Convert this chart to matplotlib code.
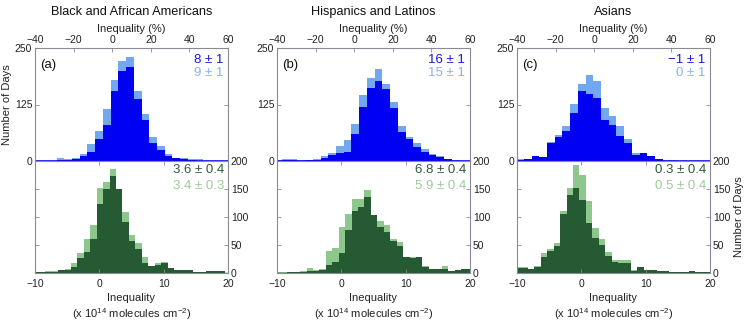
import numpy as np
import matplotlib
matplotlib.use('Agg')
import matplotlib.pyplot as plt

plt.rcParams['font.family'] = ['Liberation Sans', 'DejaVu Sans']
plt.rcParams['mathtext.default'] = 'regular'

titles = ['Black and African Americans', 'Hispanics and Latinos', 'Asians']
letters = ['(a)', '(b)', '(c)']

# top row: inequality in percent, bins of 4 %
top_width = 4.0
a_top_start = -28.8
a_top_dark = [2, 2, 4, 10, 21, 49, 80, 155, 200, 209, 137, 91, 39, 24, 10, 6, 4, 2, 1, 0]
a_top_light = [7, 4, 6, 15, 37, 67, 115, 179, 222, 230, 155, 104, 52, 33, 15, 7, 6, 5, 4, 1]
b_top_start = -41.4
b_top_dark = [1, 2, 2, 1, 2, 3, 7, 13, 17, 21, 60, 120, 161, 178, 159, 117, 65, 49, 30, 19, 13, 8, 4, 1, 0]
b_top_light = [2, 4, 4, 3, 3, 4, 10, 17, 33, 47, 81, 146, 183, 203, 171, 130, 78, 54, 39, 26, 15, 10, 5, 2, 1]
c_top_start = -40.45
c_top_dark = [2, 5, 11, 9, 39, 53, 67, 107, 155, 148, 139, 91, 80, 55, 39, 13, 17, 11, 4, 1, 1, 0]
c_top_light = [4, 5, 11, 9, 41, 58, 78, 126, 170, 191, 178, 117, 100, 78, 49, 18, 17, 11, 4, 2, 2, 1]

# bottom row: inequality in 1e14 molecules cm-2, bins of 1
bot_width = 1.0
a_bot_start = -10.4
a_bot_dark = [1, 1, 1, 2, 5, 6, 11, 26, 38, 60, 123, 150, 173, 150, 91, 57, 42, 17, 12, 14,
              17, 9, 6, 5, 5, 2, 2, 3, 3, 3]
a_bot_light = [1, 2, 3, 3, 5, 8, 17, 35, 60, 85, 152, 162, 185, 148, 109, 67, 54, 29, 12, 18,
               20, 8, 5, 4, 3, 1, 1, 2, 2, 2]
b_bot_start = -10.4
b_bot_dark = [0, 0, 1, 1, 1, 4, 4, 6, 15, 19, 35, 76, 111, 118, 135, 103, 82, 73, 58, 49,
              28, 27, 28, 10, 7, 7, 8, 4, 6, 7, 8]
b_bot_light = [1, 1, 2, 2, 3, 9, 5, 7, 40, 45, 82, 105, 132, 132, 148, 103, 92, 85, 61, 55,
               29, 29, 27, 13, 7, 7, 12, 4, 6, 7, 8]
c_bot_start = -10.3
c_bot_dark = [9, 9, 8, 11, 28, 40, 49, 105, 140, 152, 130, 90, 62, 50, 31, 20, 18, 18, 4, 10,
              5, 5, 3, 4, 2, 2, 1, 3, 1, 1, 1]
c_bot_light = [10, 10, 8, 13, 35, 43, 53, 110, 152, 193, 175, 128, 80, 60, 37, 24, 24, 24, 5, 10,
               5, 5, 3, 4, 2, 2, 1, 3, 1, 1, 1]

top_stat_dark = ['8 ± 1', '16 ± 1', '−1 ± 1']
top_stat_light = ['9 ± 1', '15 ± 1', '0 ± 1']
bot_stat_dark = ['3.6 ± 0.4', '6.8 ± 0.4', '0.3 ± 0.4']
bot_stat_light = ['3.4 ± 0.3', '5.9 ± 0.4', '0.5 ± 0.4']

top_data = [(a_top_start, a_top_dark, a_top_light),
            (b_top_start, b_top_dark, b_top_light),
            (c_top_start, c_top_dark, c_top_light)]
bot_data = [(a_bot_start, a_bot_dark, a_bot_light),
            (b_bot_start, b_bot_dark, b_bot_light),
            (c_bot_start, c_bot_dark, c_bot_light)]

BLUE = '#0000f2'
LBLUE = '#72a8f2'
DGREEN = '#255a32'
LGREEN = '#8dc78b'
TXT_BLUE = '#1818d8'
TXT_LBLUE = '#86b4ee'
TXT_DGREEN = '#2f5d3a'
TXT_LGREEN = '#9acc96'
SPINE = '#8a8a94'

W, H = 748, 324
fig = plt.figure(figsize=(W / 100, H / 100), dpi=100)
lefts = [35, 277, 517]
pw = 193


def style(ax):
    for s in ax.spines.values():
        s.set_color(SPINE)
        s.set_linewidth(0.8)
    ax.tick_params(which='both', direction='in', length=3, width=0.6, color=SPINE,
                   labelsize=7.5, pad=2, labelcolor='#222222')


for i in range(3):
    xl = lefts[i]
    axt = fig.add_axes([xl / W, 1 - 161 / H, pw / W, 113 / H])
    axb = fig.add_axes([xl / W, 1 - 273 / H, pw / W, 112 / H])

    start, dark, light = top_data[i]
    edges = start + top_width * np.arange(len(dark))
    axt.bar(edges, light, width=top_width, align='edge', color=LBLUE, linewidth=0)
    axt.bar(edges, dark, width=top_width, align='edge', color=BLUE, linewidth=0)
    axt.axhline(0, color=BLUE, lw=1.2)
    axt.set_xlim(-40, 60)
    axt.set_ylim(0, 250)
    axt.set_xticks([-40, -20, 0, 20, 40, 60])
    axt.set_yticks([0, 125, 250])
    style(axt)
    axt.xaxis.tick_top()
    axt.xaxis.set_label_position('top')
    axt.tick_params(axis='x', top=True, bottom=False)
    axt.tick_params(axis='y', left=True, right=True)
    axt.set_xlabel('Inequality (%)', fontsize=8, labelpad=2, color='#222222')
    axt.text(0.025, 0.85, letters[i], transform=axt.transAxes, fontsize=9.5,
             ha='left', va='center', color='#111111')
    axt.text(0.975, 0.895, top_stat_dark[i], transform=axt.transAxes, fontsize=9.5,
             ha='right', va='center', color=TXT_BLUE)
    axt.text(0.975, 0.775, top_stat_light[i], transform=axt.transAxes, fontsize=9.5,
             ha='right', va='center', color=TXT_LBLUE)

    start, dark, light = bot_data[i]
    edges = start + bot_width * np.arange(len(dark))
    axb.bar(edges, light, width=bot_width, align='edge', color=LGREEN, linewidth=0)
    axb.bar(edges, dark, width=bot_width, align='edge', color=DGREEN, linewidth=0)
    axb.axhline(0, color=DGREEN, lw=1.0)
    axb.set_xlim(-10, 20)
    axb.set_ylim(0, 200)
    axb.set_xticks([-10, 0, 10, 20])
    axb.set_yticks([0, 50, 100, 150, 200])
    style(axb)
    axb.tick_params(axis='x', top=True, bottom=True, pad=4)
    axb.tick_params(axis='y', left=True, right=True, labelleft=False, labelright=True)
    axb.set_xlabel('Inequality\n(x 10$^{14}$ molecules cm$^{-2}$)', fontsize=8,
                   linespacing=1.3, labelpad=3, color='#222222')
    axb.text(0.98, 0.92, bot_stat_dark[i], transform=axb.transAxes, fontsize=9.5,
             ha='right', va='center', color=TXT_DGREEN)
    axb.text(0.98, 0.775, bot_stat_light[i], transform=axb.transAxes, fontsize=9.5,
             ha='right', va='center', color=TXT_LGREEN)

    fig.text((xl + pw / 2) / W, 1 - 12 / H, titles[i], fontsize=9.2,
             ha='center', va='center', color='#111111')

    if i == 0:
        axt.set_ylabel('Number of Days', fontsize=8, labelpad=2, color='#222222')
    if i == 2:
        axb.yaxis.set_label_position('right')
        axb.set_ylabel('Number of Days', fontsize=8, labelpad=3, color='#222222')

fig.savefig('out.png', dpi=100)
